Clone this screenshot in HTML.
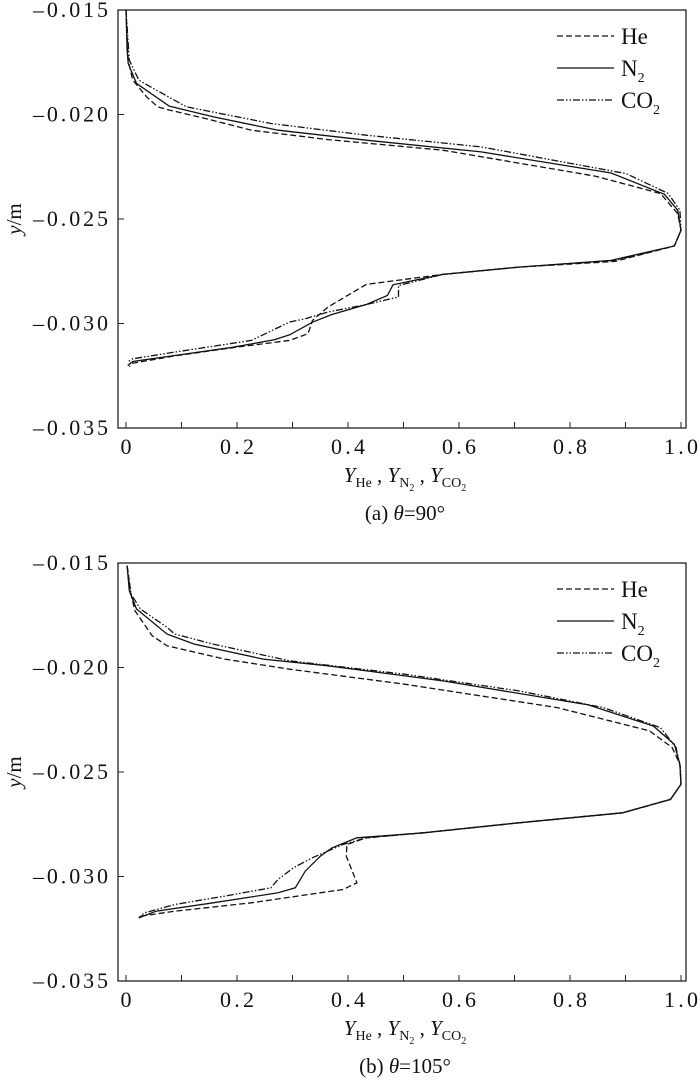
<!DOCTYPE html>
<html><head><meta charset="utf-8"><style>
body{margin:0;background:#fff}
svg text{font-family:"Liberation Serif",serif;fill:#111}
</style></head><body>
<svg id="fig" width="700" height="1087" xmlns="http://www.w3.org/2000/svg"></svg>
<script>
const xTicks=[0,0.2,0.4,0.6,0.8,1.0];
const xTickLabels=["0","0.2","0.4","0.6","0.8","1.0"];
const yTicks=[-0.015,-0.020,-0.025,-0.030,-0.035];
const yTickLabels=["\u20130.015","\u20130.020","\u20130.025","\u20130.030","\u20130.035"];
const seriesNames=["He","N2","CO2"];
// panel (a)
const aHeX=[0,0.004,0.012,0.037,0.057,0.074,0.143,0.226,0.364,0.571,0.846,0.963,0.994,1.0,0.988,0.881,0.708,0.571,0.433,0.364,0.336,0.328,0.295,0.192,0.088,0.012,0.006];
const aHeY=[-0.015,-0.0174,-0.01835,-0.01915,-0.01963,-0.01976,-0.02019,-0.02075,-0.0212,-0.02171,-0.02295,-0.02378,-0.02474,-0.02554,-0.02629,-0.02703,-0.0273,-0.02765,-0.02813,-0.02921,-0.02985,-0.03049,-0.03081,-0.03116,-0.03155,-0.0319,-0.03206];
const aN2X=[0,0.002,0.004,0.019,0.078,0.157,0.274,0.433,0.640,0.874,0.970,0.994,1.0,0.988,0.874,0.708,0.571,0.481,0.471,0.433,0.371,0.336,0.295,0.267,0.192,0.088,0.012,0.003];
const aN2Y=[-0.015,-0.01692,-0.01756,-0.01851,-0.0196,-0.02011,-0.02075,-0.02123,-0.02179,-0.0228,-0.02382,-0.02458,-0.02554,-0.02629,-0.02698,-0.0273,-0.02765,-0.02815,-0.02866,-0.02909,-0.02957,-0.02994,-0.03054,-0.03078,-0.03114,-0.03153,-0.03182,-0.03201];
const aCO2X=[0,0.006,0.023,0.054,0.109,0.261,0.433,0.640,0.901,0.977,0.998,1.0,0.988,0.881,0.708,0.571,0.491,0.491,0.433,0.364,0.323,0.295,0.226,0.088,0.012,0.002];
const aCO2Y=[-0.015,-0.0174,-0.01835,-0.01883,-0.01963,-0.02043,-0.02099,-0.02155,-0.02283,-0.02378,-0.02458,-0.02554,-0.02629,-0.02698,-0.0273,-0.02765,-0.02818,-0.02873,-0.02909,-0.02945,-0.02977,-0.02993,-0.03081,-0.03137,-0.03169,-0.03185];
// panel (b)
const bHeX=[0.002,0.009,0.016,0.047,0.074,0.178,0.295,0.502,0.777,0.943,0.984,0.998,1.0,0.981,0.895,0.708,0.536,0.433,0.398,0.397,0.416,0.391,0.226,0.088,0.026,0.023];
const bHeY=[-0.01513,-0.01649,-0.01728,-0.01848,-0.01896,-0.0196,-0.02008,-0.0208,-0.02192,-0.02303,-0.02383,-0.02463,-0.02559,-0.02631,-0.02695,-0.02743,-0.02791,-0.02815,-0.02847,-0.02903,-0.0303,-0.03062,-0.03126,-0.03166,-0.0319,-0.03198];
const bN2X=[0.002,0.006,0.019,0.074,0.123,0.247,0.364,0.571,0.833,0.950,0.988,0.998,1.0,0.981,0.895,0.708,0.536,0.416,0.371,0.35,0.323,0.305,0.274,0.157,0.054,0.023];
const bN2Y=[-0.01513,-0.01633,-0.0172,-0.0184,-0.01888,-0.0196,-0.01992,-0.02064,-0.02179,-0.0228,-0.02367,-0.02463,-0.02559,-0.02631,-0.02695,-0.02743,-0.02791,-0.02815,-0.02863,-0.02903,-0.02974,-0.03054,-0.03078,-0.03126,-0.03166,-0.03198];
const bCO2X=[0.002,0.009,0.026,0.074,0.088,0.157,0.295,0.502,0.708,0.860,0.963,0.991,0.999,1.0,0.981,0.895,0.708,0.536,0.433,0.391,0.336,0.302,0.274,0.261,0.178,0.088,0.033,0.023];
const bCO2Y=[-0.01513,-0.01649,-0.0172,-0.01808,-0.0184,-0.01888,-0.01968,-0.02032,-0.02112,-0.02192,-0.02288,-0.02383,-0.02479,-0.02559,-0.02631,-0.02695,-0.02743,-0.02791,-0.02815,-0.02847,-0.0291,-0.02958,-0.03014,-0.03054,-0.03094,-0.03134,-0.03174,-0.03198];

const NS="http://www.w3.org/2000/svg";
const svg=document.getElementById('fig');
function mk(tag,attrs,parent){const e=document.createElementNS(NS,tag);for(const k in attrs)e.setAttribute(k,attrs[k]);(parent||svg).appendChild(e);return e;}
const dashes=["6,3","","7,2,1.5,2,1.5,2"];

function panel(top,id,caption,series){
  const L=118,R=686,B=top+418;
  const x0=126,x1=681;
  const sx=v=>x0+(x1-x0)*v;
  const sy=v=>top+(B-top)*(-0.015-v)/0.020;
  const g=mk('g',{});
  
  
  const fr=mk('rect',{x:L,y:top,width:R-L,height:B-top,fill:'none',stroke:'#222','stroke-width':1.3},g);
  
  
  for(let i=0;i<=10;i++){
    const t=mk('line',{x1:sx(i/10),x2:sx(i/10),y1:B,y2:B-6,stroke:'#222','stroke-width':1},g);
    
    
  }
  xTicks.forEach((v,i)=>{
    const a={x:sx(v),y:B+26,'font-size':22,'text-anchor':'middle'};
    if(xTickLabels[i].length>1){a.textLength=34;a.lengthAdjust='spacing';}
    const t=mk('text',a,g);
    t.textContent=xTickLabels[i];
    
    
  });
  yTicks.forEach((v,i)=>{
    const tk=mk('line',{x1:L,x2:L+6,y1:sy(v),y2:sy(v),stroke:'#222','stroke-width':1},g);
    
    
    const t=mk('text',{x:33,y:sy(v)+7,'font-size':22,textLength:75,lengthAdjust:'spacing'},g);
    t.textContent=yTickLabels[i];
    
    
  });
  const yl=mk('text',{x:0,y:0,'font-size':21,'text-anchor':'middle',transform:`translate(21,${(top+B)/2}) rotate(-90)`},g);
  yl.innerHTML='<tspan font-style="italic">y</tspan>/m';
  
  
  const xl=mk('text',{x:405,y:B+54,'font-size':21,'text-anchor':'middle'},g);
  xl.innerHTML='<tspan font-style="italic">Y</tspan><tspan font-size="14" dy="5">He</tspan><tspan dy="-5"> , </tspan><tspan font-style="italic">Y</tspan><tspan font-size="14" dy="5">N</tspan><tspan font-size="10" dy="4">2</tspan><tspan dy="-9"> , </tspan><tspan font-style="italic">Y</tspan><tspan font-size="14" dy="5">CO</tspan><tspan font-size="10" dy="4">2</tspan>';
  
  
  const cp=mk('text',{x:405,y:B+92,'font-size':21,'text-anchor':'middle'},g);
  cp.innerHTML=caption;
  
  
  series.forEach((s,k)=>{
    const pts=s[0].map((v,i)=>sx(v).toFixed(1)+','+sy(s[1][i]).toFixed(1)).join(' ');
    const p=mk('polyline',{points:pts,fill:'none',stroke:'#111','stroke-width':1.3,'stroke-dasharray':dashes[k]},g);
    
    
  });
  const legY=[top+26,top+58,top+90];
  const legLab=['He','N<tspan font-size="14" dy="6">2</tspan>','CO<tspan font-size="14" dy="6">2</tspan>'];
  legY.forEach((y,k)=>{
    const ln=mk('line',{x1:557,x2:614,y1:y,y2:y,stroke:'#111','stroke-width':1.3,'stroke-dasharray':dashes[k]},g);
    
    
    const t=mk('text',{x:621,y:y+8,'font-size':23},g);
    t.innerHTML=legLab[k];
    
    
  });
}
panel(10,'a','(a) <tspan font-style="italic">θ</tspan>=90°',[[aHeX,aHeY],[aN2X,aN2Y],[aCO2X,aCO2Y]]);
panel(563,'b','(b) <tspan font-style="italic">θ</tspan>=105°',[[bHeX,bHeY],[bN2X,bN2Y],[bCO2X,bCO2Y]]);
</script>
</body></html>
